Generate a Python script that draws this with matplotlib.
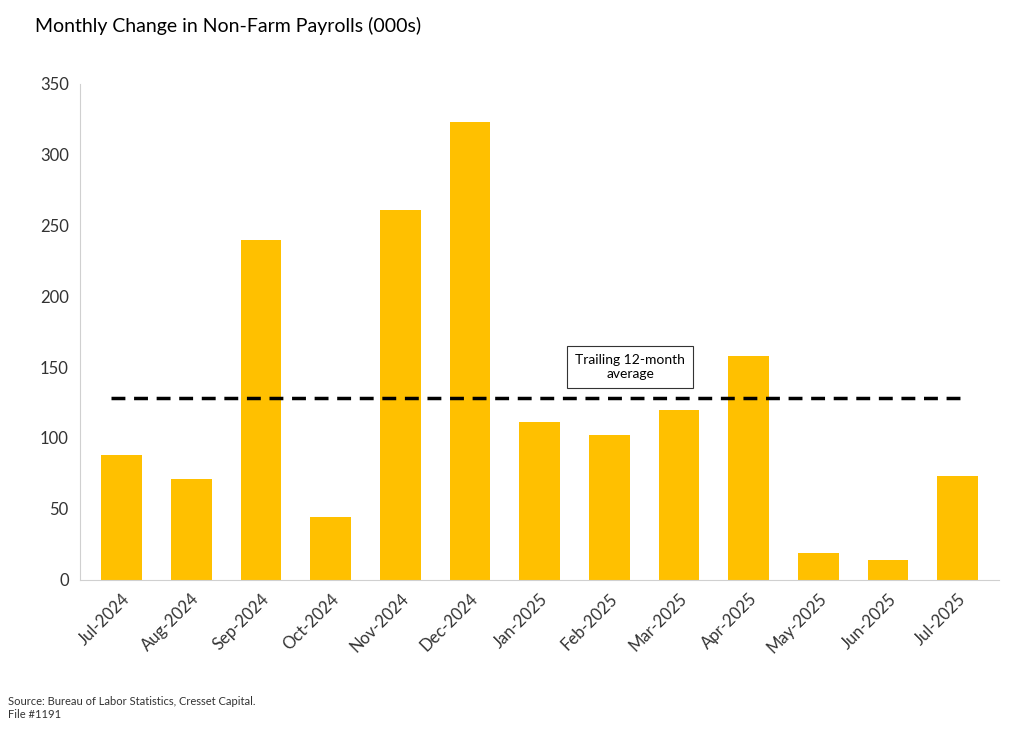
import numpy as np
import matplotlib.pyplot as plt

months = ["Jul-2024", "Aug-2024", "Sep-2024", "Oct-2024", "Nov-2024", "Dec-2024",
          "Jan-2025", "Feb-2025", "Mar-2025", "Apr-2025", "May-2025", "Jun-2025", "Jul-2025"]
payrolls = [88, 71, 240, 44, 261, 323, 111, 102, 120, 158, 19, 14, 73]
avg_12m = 128

plt.rcParams['font.family'] = ['Lato', 'DejaVu Sans']
fig = plt.figure(figsize=(10.24, 7.43), dpi=100)
ax = fig.add_axes([0.078, 0.22, 0.898, 0.667])

x = np.arange(len(months))
ax.bar(x, payrolls, width=0.58, color="#FFC000")
ax.plot([x[0] - 0.15, x[-1] + 0.15], [avg_12m, avg_12m], color="black",
        linestyle=(0, (4, 2.5)), linewidth=2.5)

ax.set_xlim(-0.6, len(months) - 0.4)
ax.set_ylim(0, 350)
ax.set_yticks(range(0, 351, 50))
ax.set_xticks(x)
ax.set_xticklabels(months, rotation=45, ha="right", rotation_mode="anchor")
ax.tick_params(axis="both", length=0, labelsize=12, colors="#333333", pad=8)
for s in ["top", "right"]:
    ax.spines[s].set_visible(False)
for s in ["left", "bottom"]:
    ax.spines[s].set_color("#D0D0D0")

ax.text(7.3, 150, "Trailing 12-month\naverage", ha="center", va="center", fontsize=10,
        bbox=dict(boxstyle="square,pad=0.6", facecolor="white", edgecolor="#333333", linewidth=0.8))

fig.text(0.034, 0.965, "Monthly Change in Non-Farm Payrolls (000s)", fontsize=14, va="center")
fig.text(0.008, 0.047, "Source: Bureau of Labor Statistics, Cresset Capital.\nFile #1191",
         fontsize=8, va="center", color="#333333")

fig.savefig("out.png", dpi=100)
